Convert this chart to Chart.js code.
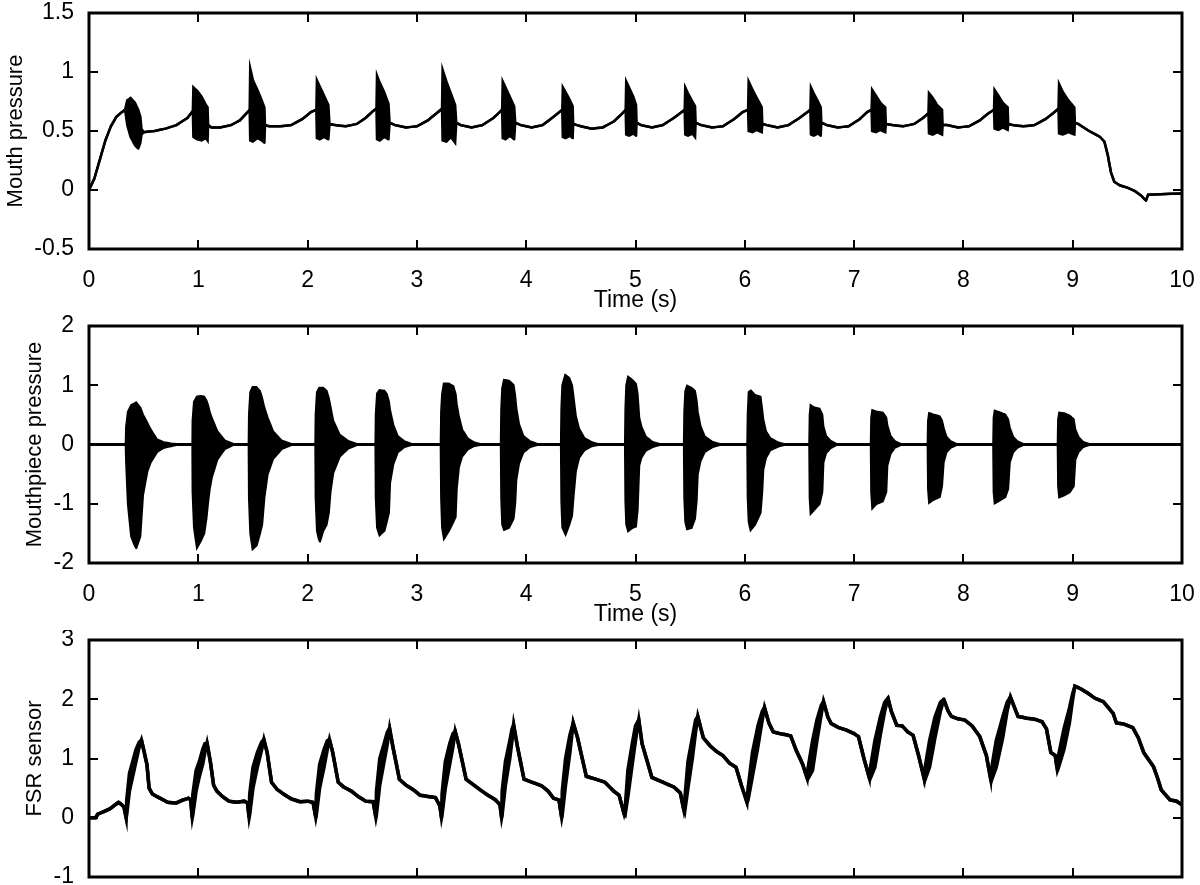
<!DOCTYPE html>
<html>
<head>
<meta charset="utf-8">
<script src="https://cdn.jsdelivr.net/npm/chart.js@4.4.1/dist/chart.umd.min.js"></script>
<style>
  html, body { margin: 0; padding: 0; background: #fff; }
  #wrap { position: relative; width: 1200px; height: 885px; overflow: hidden; }
  canvas { position: absolute; left: 0; }
</style>
</head>
<body>
<div id="wrap">
  <canvas id="mouth" width="1200" height="315" style="top:0"></canvas>
  <canvas id="piece" width="1200" height="315" style="top:315px"></canvas>
  <canvas id="fsr" width="1200" height="255" style="top:630px"></canvas>
</div>
<script>
// tick values
var timeTicks = [0, 1, 2, 3, 4, 5, 6, 7, 8, 9, 10];
var mouthTicks = [-0.5, 0, 0.5, 1, 1.5];
var pieceTicks = [-2, -1, 0, 1, 2];
var fsrTicks = [-1, 0, 1, 2, 3];

// mouth pressure: upper / lower envelope (equal outside the bursts)
var mouthT = [
  0, 0.05, 0.10, 0.15, 0.20, 0.25, 0.30, 0.33,
  0.35, 0.38, 0.42, 0.45, 0.47, 0.48, 0.50,
  0.60, 0.70, 0.80, 0.90, 0.95,
  0.955, 0.99, 1.03, 1.07, 1.085, 1.09,
  1.12, 1.20, 1.30, 1.38, 1.44, 1.47,
  1.475, 1.50, 1.54, 1.58, 1.605, 1.61,
  1.65, 1.75, 1.85, 1.95, 2.03, 2.08,
  2.085, 2.11, 2.15, 2.19, 2.20,
  2.25, 2.35, 2.45, 2.53, 2.60, 2.63,
  2.635, 2.66, 2.70, 2.74, 2.75,
  2.80, 2.90, 3.00, 3.10, 3.18, 3.23,
  3.235, 3.27, 3.31, 3.35, 3.36,
  3.40, 3.50, 3.60, 3.70, 3.78,
  3.785, 3.81, 3.85, 3.89, 3.90,
  3.95, 4.05, 4.15, 4.25, 4.33,
  4.335, 4.36, 4.40, 4.425, 4.43,
  4.50, 4.60, 4.70, 4.80, 4.87, 4.91,
  4.915, 4.94, 4.98, 5.005, 5.01,
  5.05, 5.15, 5.25, 5.35, 5.45,
  5.455, 5.48, 5.52, 5.545, 5.55,
  5.60, 5.70, 5.80, 5.90, 5.98, 6.03,
  6.035, 6.07, 6.11, 6.155, 6.16,
  6.20, 6.30, 6.40, 6.50, 6.60,
  6.605, 6.63, 6.67, 6.695, 6.70,
  6.75, 6.85, 6.95, 7.05, 7.12, 7.16,
  7.165, 7.20, 7.24, 7.285, 7.29,
  7.35, 7.45, 7.55, 7.63, 7.68,
  7.685, 7.72, 7.76, 7.805, 7.81,
  7.85, 7.95, 8.05, 8.15, 8.23, 8.28,
  8.285, 8.32, 8.36, 8.405, 8.41,
  8.45, 8.55, 8.65, 8.75, 8.82, 8.87,
  8.875, 8.91, 8.96, 9.015, 9.02,
  9.05, 9.15, 9.25, 9.29, 9.32, 9.35, 9.38, 9.43, 9.50, 9.57, 9.63, 9.67, 9.69, 9.80, 10.0
];
var mouthHi = [
  0, 0.10, 0.26, 0.42, 0.54, 0.62, 0.66, 0.68,
  0.76, 0.78, 0.74, 0.68, 0.62, 0.52, 0.49,
  0.50, 0.52, 0.55, 0.61, 0.67,
  0.87, 0.84, 0.79, 0.72, 0.70, 0.55,
  0.53, 0.53, 0.55, 0.59, 0.65, 0.68,
  1.03, 0.93, 0.85, 0.76, 0.70, 0.55,
  0.54, 0.54, 0.55, 0.60, 0.66, 0.68,
  0.93, 0.88, 0.80, 0.72, 0.56,
  0.55, 0.54, 0.56, 0.61, 0.67, 0.69,
  0.97, 0.91, 0.83, 0.73, 0.57,
  0.55, 0.53, 0.54, 0.59, 0.65, 0.69,
  1.02, 0.92, 0.82, 0.72, 0.57,
  0.55, 0.53, 0.55, 0.61, 0.68,
  0.92, 0.87, 0.79, 0.71, 0.57,
  0.55, 0.53, 0.55, 0.62, 0.68,
  0.87, 0.83, 0.76, 0.71, 0.56,
  0.54, 0.52, 0.53, 0.58, 0.64, 0.68,
  0.92, 0.87, 0.79, 0.72, 0.57,
  0.55, 0.53, 0.55, 0.61, 0.68,
  0.87, 0.82, 0.75, 0.71, 0.57,
  0.55, 0.53, 0.54, 0.60, 0.66, 0.68,
  0.92, 0.85, 0.78, 0.70, 0.56,
  0.55, 0.53, 0.55, 0.61, 0.68,
  0.87, 0.82, 0.75, 0.70, 0.57,
  0.55, 0.53, 0.54, 0.60, 0.66, 0.68,
  0.85, 0.80, 0.74, 0.70, 0.56,
  0.55, 0.54, 0.56, 0.61, 0.65,
  0.82, 0.78, 0.72, 0.68, 0.55,
  0.55, 0.53, 0.54, 0.59, 0.65, 0.68,
  0.85, 0.80, 0.74, 0.70, 0.56,
  0.55, 0.54, 0.55, 0.60, 0.65, 0.69,
  0.90, 0.83, 0.76, 0.70, 0.57,
  0.56, 0.50, 0.45, 0.41, 0.30, 0.15, 0.07, 0.04, 0.02, -0.01, -0.05, -0.09, -0.04, -0.035, -0.03
];
var mouthLo = [
  0, 0.10, 0.26, 0.42, 0.54, 0.62, 0.66, 0.68,
  0.55, 0.45, 0.38, 0.35, 0.40, 0.47, 0.49,
  0.50, 0.52, 0.55, 0.61, 0.67,
  0.45, 0.43, 0.42, 0.44, 0.42, 0.55,
  0.53, 0.53, 0.55, 0.59, 0.65, 0.68,
  0.42, 0.41, 0.44, 0.42, 0.40, 0.55,
  0.54, 0.54, 0.55, 0.60, 0.66, 0.68,
  0.44, 0.43, 0.45, 0.43, 0.56,
  0.55, 0.54, 0.56, 0.61, 0.67, 0.69,
  0.43, 0.42, 0.45, 0.43, 0.57,
  0.55, 0.53, 0.54, 0.59, 0.65, 0.69,
  0.42, 0.41, 0.45, 0.40, 0.57,
  0.55, 0.53, 0.55, 0.61, 0.68,
  0.44, 0.43, 0.46, 0.43, 0.57,
  0.55, 0.53, 0.55, 0.62, 0.68,
  0.45, 0.44, 0.46, 0.44, 0.56,
  0.54, 0.52, 0.53, 0.58, 0.64, 0.68,
  0.47, 0.46, 0.48, 0.46, 0.57,
  0.55, 0.53, 0.55, 0.61, 0.68,
  0.47, 0.46, 0.48, 0.45, 0.57,
  0.55, 0.53, 0.54, 0.60, 0.66, 0.68,
  0.50, 0.49, 0.51, 0.49, 0.56,
  0.55, 0.53, 0.55, 0.61, 0.68,
  0.47, 0.46, 0.48, 0.46, 0.57,
  0.55, 0.53, 0.54, 0.60, 0.66, 0.68,
  0.50, 0.49, 0.51, 0.49, 0.56,
  0.55, 0.54, 0.56, 0.61, 0.65,
  0.48, 0.47, 0.49, 0.47, 0.55,
  0.55, 0.53, 0.54, 0.59, 0.65, 0.68,
  0.52, 0.51, 0.53, 0.51, 0.56,
  0.55, 0.54, 0.55, 0.60, 0.65, 0.69,
  0.48, 0.47, 0.49, 0.47, 0.57,
  0.56, 0.50, 0.45, 0.41, 0.30, 0.15, 0.07, 0.04, 0.02, -0.01, -0.05, -0.09, -0.04, -0.035, -0.03
];

// mouthpiece pressure: upper / lower envelope of the oscillation
var pieceT = [
  0, 0.34,
  0.344, 0.36, 0.39, 0.43, 0.465, 0.49, 0.53, 0.56, 0.62, 0.68, 0.75, 0.80,
  0.95, 0.952, 0.965, 0.99, 1.02, 1.05, 1.07, 1.085, 1.10, 1.12, 1.17, 1.24, 1.32,
  1.465, 1.468, 1.48, 1.50, 1.53, 1.56, 1.58, 1.60, 1.63, 1.68, 1.76, 1.85,
  2.075, 2.078, 2.09, 2.11, 2.14, 2.17, 2.19, 2.205, 2.23, 2.29, 2.37, 2.45,
  2.625, 2.628, 2.64, 2.66, 2.70, 2.72, 2.74, 2.75, 2.78, 2.82, 2.88, 2.95,
  3.222, 3.226, 3.235, 3.25, 3.29, 3.33, 3.35, 3.36, 3.38, 3.41, 3.46, 3.52, 3.58,
  3.772, 3.776, 3.785, 3.80, 3.84, 3.88, 3.895, 3.905, 3.93, 3.97, 4.03, 4.10,
  4.322, 4.326, 4.335, 4.36, 4.39, 4.415, 4.43, 4.45, 4.48, 4.53, 4.60, 4.66,
  4.908, 4.912, 4.920, 4.935, 4.97, 5.00, 5.015, 5.03, 5.05, 5.09, 5.15, 5.22,
  5.447, 5.451, 5.46, 5.475, 5.51, 5.54, 5.555, 5.565, 5.59, 5.63, 5.70, 5.77,
  6.027, 6.031, 6.04, 6.055, 6.09, 6.14, 6.155, 6.165, 6.19, 6.23, 6.30, 6.36,
  6.594, 6.598, 6.606, 6.63, 6.68, 6.705, 6.715, 6.74, 6.78, 6.84,
  7.157, 7.161, 7.17, 7.20, 7.26, 7.29, 7.30, 7.33, 7.37, 7.43,
  7.677, 7.681, 7.69, 7.72, 7.78, 7.80, 7.815, 7.84, 7.88, 7.94,
  8.277, 8.281, 8.29, 8.32, 8.38, 8.405, 8.42, 8.45, 8.49, 8.55,
  8.867, 8.871, 8.88, 8.92, 8.97, 9.005, 9.02, 9.05, 9.09, 9.15, 10.0
];
var pieceHi = [
  0, 0,
  0.30, 0.55, 0.66, 0.70, 0.62, 0.50, 0.36, 0.25, 0.08, 0.03, 0.01, 0,
  0, 0.40, 0.72, 0.80, 0.81, 0.80, 0.74, 0.66, 0.55, 0.44, 0.22, 0.06, 0,
  0, 0.50, 0.88, 0.96, 0.96, 0.90, 0.78, 0.62, 0.45, 0.22, 0.06, 0,
  0, 0.50, 0.88, 0.95, 0.95, 0.90, 0.78, 0.64, 0.40, 0.16, 0.05, 0,
  0, 0.50, 0.86, 0.91, 0.90, 0.85, 0.72, 0.58, 0.33, 0.14, 0.05, 0,
  0, 0.55, 0.85, 1.02, 1.02, 0.98, 0.85, 0.68, 0.47, 0.25, 0.10, 0.03, 0,
  0, 0.60, 0.95, 1.08, 1.07, 1.00, 0.82, 0.62, 0.34, 0.14, 0.05, 0,
  0, 0.60, 1.00, 1.16, 1.12, 1.00, 0.78, 0.48, 0.26, 0.10, 0.03, 0,
  0, 0.60, 1.00, 1.13, 1.08, 1.02, 0.85, 0.45, 0.30, 0.13, 0.04, 0,
  0, 0.55, 0.90, 0.98, 0.95, 0.90, 0.74, 0.55, 0.31, 0.13, 0.04, 0,
  0, 0.50, 0.88, 0.90, 0.83, 0.80, 0.58, 0.42, 0.22, 0.10, 0.03, 0,
  0, 0.50, 0.65, 0.62, 0.60, 0.50, 0.30, 0.14, 0.06, 0,
  0, 0.45, 0.57, 0.55, 0.53, 0.45, 0.32, 0.14, 0.05, 0,
  0, 0.40, 0.52, 0.50, 0.47, 0.40, 0.28, 0.13, 0.05, 0,
  0, 0.45, 0.56, 0.54, 0.50, 0.42, 0.28, 0.13, 0.05, 0,
  0, 0.42, 0.53, 0.52, 0.48, 0.42, 0.25, 0.12, 0.04, 0, 0
];
var pieceLo = [
  0, 0,
  -0.30, -1.00, -1.55, -1.74, -1.55, -0.85, -0.45, -0.30, -0.12, -0.05, -0.02, 0,
  0, -0.80, -1.40, -1.72, -1.62, -1.50, -1.25, -0.98, -0.75, -0.55, -0.25, -0.07, 0,
  0, -0.90, -1.50, -1.75, -1.70, -1.50, -1.35, -0.90, -0.50, -0.24, -0.07, 0,
  0, -0.90, -1.45, -1.63, -1.45, -1.35, -1.15, -0.80, -0.48, -0.20, -0.06, 0,
  0, -0.90, -1.40, -1.52, -1.45, -1.30, -1.15, -0.65, -0.33, -0.13, -0.04, 0,
  0, -0.90, -1.40, -1.57, -1.45, -1.30, -1.22, -0.75, -0.38, -0.20, -0.08, -0.02, 0,
  0, -0.90, -1.35, -1.43, -1.40, -1.25, -1.00, -0.60, -0.32, -0.13, -0.04, 0,
  0, -0.95, -1.40, -1.50, -1.35, -1.20, -0.85, -0.45, -0.22, -0.09, -0.02, 0,
  0, -0.95, -1.35, -1.45, -1.40, -1.38, -1.10, -0.35, -0.22, -0.10, -0.04, 0,
  0, -0.90, -1.30, -1.42, -1.40, -1.25, -0.95, -0.50, -0.28, -0.12, -0.04, 0,
  0, -0.90, -1.30, -1.43, -1.35, -1.15, -0.80, -0.42, -0.22, -0.09, -0.03, 0,
  0, -0.90, -1.15, -1.10, -1.00, -0.80, -0.30, -0.14, -0.06, 0,
  0, -0.80, -1.06, -1.00, -0.95, -0.80, -0.35, -0.15, -0.05, 0,
  0, -0.75, -0.97, -0.93, -0.88, -0.70, -0.30, -0.13, -0.05, 0,
  0, -0.80, -0.98, -0.95, -0.88, -0.75, -0.30, -0.13, -0.05, 0,
  0, -0.70, -0.88, -0.85, -0.80, -0.70, -0.25, -0.12, -0.04, 0, 0
];

// FSR sensor: upper / lower edge of the trace (band on the rising edges)
var fsrT = [
  0, 0.06, 0.08, 0.13, 0.19, 0.24, 0.27, 0.30, 0.32, 0.34,
  0.345, 0.37, 0.40, 0.43, 0.46, 0.48, 0.50, 0.53, 0.55, 0.58, 0.62, 0.66, 0.72, 0.80, 0.86, 0.91, 0.93, 0.945,
  0.95, 0.98, 1.01, 1.04, 1.06, 1.08, 1.11, 1.14, 1.17, 1.22, 1.28, 1.35, 1.42, 1.45, 1.465,
  1.47, 1.50, 1.54, 1.58, 1.60, 1.63, 1.67, 1.72, 1.78, 1.85, 1.93, 2.00, 2.05, 2.075,
  2.08, 2.11, 2.15, 2.18, 2.20, 2.23, 2.28, 2.33, 2.40, 2.47, 2.53, 2.60, 2.625,
  2.63, 2.66, 2.70, 2.73, 2.75, 2.78, 2.84, 2.90, 2.97, 3.03, 3.10, 3.17, 3.21, 3.225,
  3.23, 3.26, 3.30, 3.33, 3.35, 3.38, 3.45, 3.50, 3.58, 3.65, 3.72, 3.76, 3.775,
  3.78, 3.81, 3.85, 3.87, 3.885, 3.92, 3.98, 4.05, 4.14, 4.20, 4.25, 4.30, 4.325,
  4.33, 4.36, 4.40, 4.43, 4.47, 4.55, 4.62, 4.72, 4.80, 4.85, 4.895,
  4.905, 4.93, 4.97, 5.00, 5.03, 5.06, 5.15, 5.25, 5.35, 5.41, 5.44,
  5.45, 5.48, 5.52, 5.55, 5.57, 5.62, 5.68, 5.74, 5.80, 5.86, 5.92, 5.97, 6.02,
  6.03, 6.07, 6.12, 6.16, 6.18, 6.22, 6.26, 6.32, 6.38, 6.42, 6.47, 6.53, 6.57,
  6.575, 6.62, 6.66, 6.70, 6.72, 6.76, 6.79, 6.86, 6.93, 7.00, 7.04, 7.09, 7.14,
  7.145, 7.19, 7.24, 7.28, 7.31, 7.34, 7.39, 7.44, 7.49, 7.54, 7.59, 7.64,
  7.645, 7.69, 7.74, 7.79, 7.82, 7.86, 7.89, 7.95, 8.01, 8.08, 8.15, 8.21, 8.25,
  8.255, 8.30, 8.36, 8.40, 8.43, 8.47, 8.50, 8.58, 8.66, 8.72, 8.76, 8.80, 8.84, 8.86,
  8.87, 8.92, 8.97, 9.00, 9.02, 9.08, 9.14, 9.20, 9.28, 9.33, 9.37, 9.40, 9.47, 9.55, 9.60, 9.65, 9.74, 9.78, 9.81, 9.89, 9.95, 10.0
];
var fsrHi = [
  0, 0, 0.06, 0.10, 0.15, 0.22, 0.26, 0.22, 0.18, 0,
  0.30, 0.75, 0.95, 1.15, 1.28, 1.31, 1.15, 0.90, 0.50, 0.40, 0.36, 0.32, 0.26, 0.25, 0.30, 0.33, 0.30, 0,
  0.40, 0.80, 0.95, 1.15, 1.25, 1.26, 0.95, 0.55, 0.45, 0.36, 0.28, 0.26, 0.28, 0.25, 0,
  0.40, 0.85, 1.10, 1.28, 1.32, 1.10, 0.60, 0.48, 0.40, 0.32, 0.27, 0.28, 0.26, 0,
  0.40, 0.90, 1.15, 1.30, 1.32, 1.10, 0.60, 0.52, 0.45, 0.35, 0.28, 0.27, 0,
  0.45, 1.00, 1.25, 1.45, 1.51, 1.20, 0.65, 0.55, 0.47, 0.38, 0.36, 0.34, 0.20, 0,
  0.40, 0.95, 1.25, 1.42, 1.46, 1.25, 0.65, 0.58, 0.47, 0.38, 0.30, 0.22, 0,
  0.45, 0.95, 1.30, 1.50, 1.57, 1.20, 0.65, 0.60, 0.54, 0.45, 0.33, 0.30, 0,
  0.45, 1.00, 1.40, 1.60, 1.35, 0.70, 0.66, 0.60, 0.45, 0.38, 0.07,
  0.15, 0.80, 1.25, 1.55, 1.65, 1.25, 0.68, 0.60, 0.52, 0.42, 0.15,
  0.30, 0.95, 1.35, 1.65, 1.71, 1.35, 1.22, 1.12, 1.05, 0.92, 0.85, 0.54, 0.26,
  0.50, 1.10, 1.55, 1.80, 1.86, 1.60, 1.45, 1.42, 1.40, 1.38, 1.14, 0.90, 0.67,
  0.80, 1.30, 1.65, 1.90, 1.96, 1.70, 1.59, 1.52, 1.48, 1.42, 1.37, 1.00, 0.67,
  0.80, 1.30, 1.70, 1.95, 2.02, 1.80, 1.56, 1.55, 1.45, 1.39, 1.05, 0.67,
  0.80, 1.30, 1.70, 1.95, 2.00, 1.80, 1.71, 1.67, 1.65, 1.55, 1.37, 1.05, 0.65,
  0.80, 1.30, 1.70, 1.95, 2.04, 1.85, 1.71, 1.68, 1.66, 1.62, 1.50, 1.10, 1.05, 0.80,
  1.05, 1.50, 1.85, 2.10, 2.22, 2.17, 2.10, 2.02, 1.96, 1.85, 1.76, 1.60, 1.58, 1.52, 1.35, 1.10, 0.86, 0.65, 0.47, 0.30, 0.28, 0.22
];
var fsrLo = [
  0, 0, 0.06, 0.10, 0.15, 0.22, 0.26, 0.22, 0.18, 0,
  0.05, 0.45, 0.70, 0.95, 1.20, 1.31, 1.15, 0.90, 0.50, 0.40, 0.36, 0.32, 0.26, 0.25, 0.30, 0.33, 0.30, 0,
  0.05, 0.45, 0.70, 0.90, 1.10, 1.26, 0.95, 0.55, 0.45, 0.36, 0.28, 0.26, 0.28, 0.25, 0,
  0.05, 0.50, 0.85, 1.15, 1.32, 1.10, 0.60, 0.48, 0.40, 0.32, 0.27, 0.28, 0.26, 0,
  0.05, 0.50, 0.85, 1.15, 1.32, 1.10, 0.60, 0.52, 0.45, 0.35, 0.28, 0.27, 0,
  0.05, 0.55, 0.95, 1.25, 1.51, 1.20, 0.65, 0.55, 0.47, 0.38, 0.36, 0.34, 0.20, 0,
  0.05, 0.50, 0.90, 1.20, 1.46, 1.25, 0.65, 0.58, 0.47, 0.38, 0.30, 0.22, 0,
  0.05, 0.55, 1.00, 1.30, 1.57, 1.20, 0.65, 0.60, 0.54, 0.45, 0.33, 0.30, 0,
  0.05, 0.55, 1.10, 1.60, 1.35, 0.70, 0.66, 0.60, 0.45, 0.38, 0.07,
  0.05, 0.35, 0.90, 1.30, 1.65, 1.25, 0.68, 0.60, 0.52, 0.42, 0.15,
  0.10, 0.50, 1.00, 1.45, 1.71, 1.35, 1.22, 1.12, 1.05, 0.92, 0.85, 0.54, 0.26,
  0.30, 0.70, 1.20, 1.65, 1.86, 1.60, 1.45, 1.42, 1.40, 1.38, 1.14, 0.90, 0.67,
  0.65, 0.80, 1.30, 1.75, 1.96, 1.70, 1.59, 1.52, 1.48, 1.42, 1.37, 1.00, 0.67,
  0.65, 0.85, 1.40, 1.80, 2.02, 1.80, 1.56, 1.55, 1.45, 1.39, 1.05, 0.67,
  0.62, 0.85, 1.35, 1.80, 2.00, 1.80, 1.71, 1.67, 1.65, 1.55, 1.37, 1.05, 0.65,
  0.62, 0.85, 1.35, 1.80, 2.04, 1.85, 1.71, 1.68, 1.66, 1.62, 1.50, 1.10, 1.05, 0.80,
  0.85, 1.15, 1.60, 2.00, 2.22, 2.17, 2.10, 2.02, 1.96, 1.85, 1.76, 1.60, 1.58, 1.52, 1.35, 1.10, 0.86, 0.65, 0.47, 0.30, 0.28, 0.22
];

var FAMILY = "'Liberation Sans', Arial, sans-serif";
var TICK_FONT = { family: FAMILY, size: 23 };
var TITLE_FONT = { family: FAMILY, size: 22 };
var TICK = 9;

// matlab style frame, ticks pointing inwards on all four sides
var boxPlugin = {
  id: 'box',
  afterDraw: function (chart) {
    var ctx = chart.ctx, a = chart.chartArea;
    var xs = chart.scales.x, ys = chart.scales.y;
    ctx.save();
    ctx.strokeStyle = '#000';
    ctx.lineWidth = 2;
    ctx.beginPath();
    xs.ticks.forEach(function (t) {
      var px = Math.round(xs.getPixelForValue(t.value));
      ctx.moveTo(px, a.top); ctx.lineTo(px, a.top + TICK);
      ctx.moveTo(px, a.bottom); ctx.lineTo(px, a.bottom - TICK);
    });
    ys.ticks.forEach(function (t) {
      var py = Math.round(ys.getPixelForValue(t.value));
      ctx.moveTo(a.left, py); ctx.lineTo(a.left + TICK, py);
      ctx.moveTo(a.right, py); ctx.lineTo(a.right - TICK, py);
    });
    ctx.stroke();
    ctx.lineWidth = 3;
    ctx.strokeRect(a.left, a.top, a.right - a.left, a.bottom - a.top);
    ctx.restore();
  }
};

function pts(t, v) {
  return t.map(function (x, i) { return { x: x, y: v[i] }; });
}

// tiny tension keeps lines straight but avoids the pixel-collapsing fast path
function panel(id, t, hi, lo, o) {
  return new Chart(document.getElementById(id), {
    type: 'line',
    data: {
      datasets: [
        { data: pts(t, hi), borderColor: '#000', backgroundColor: '#000', borderWidth: o.lw,
          fill: '+1', pointRadius: 0, tension: 0.0001 },
        { data: pts(t, lo), borderColor: '#000', borderWidth: o.lw,
          fill: false, pointRadius: 0, tension: 0.0001 }
      ]
    },
    options: {
      responsive: false,
      animation: false,
      events: [],
      layout: { padding: { left: 0, right: 18, top: o.top, bottom: 0 } },
      plugins: { legend: { display: false }, tooltip: { enabled: false } },
      scales: {
        x: {
          type: 'linear', min: 0, max: 10,
          grid: { display: false }, border: { display: false },
          afterBuildTicks: function (s) { s.ticks = timeTicks.map(function (v) { return { value: v }; }); },
          ticks: { display: o.xLabels, padding: 10, color: '#000', font: TICK_FONT, maxRotation: 0, autoSkip: false },
          title: { display: o.xLabels, text: 'Time (s)', color: '#000', font: TICK_FONT, padding: { top: 0, bottom: o.xTitlePad } },
          afterFit: function (s) { s.height = o.xh; s.paddingLeft = 0; s.paddingRight = 0; }
        },
        y: {
          min: o.yTicks[0], max: o.yTicks[o.yTicks.length - 1],
          grid: { display: false }, border: { display: false },
          afterBuildTicks: function (s) { s.ticks = o.yTicks.map(function (v) { return { value: v }; }); },
          ticks: { padding: 7, color: '#000', font: TICK_FONT, callback: function (v) { return String(v); } },
          title: { display: true, text: o.yTitle, color: '#000', font: TITLE_FONT, padding: { top: o.titlePad, bottom: 0 } },
          afterFit: function (s) { s.width = 89; s.paddingTop = 0; s.paddingBottom = 0; }
        }
      }
    },
    plugins: [boxPlugin]
  });
}

panel('mouth', mouthT, mouthHi, mouthLo,
  { top: 13, xh: 66, lw: 2.5, xLabels: true, xTitlePad: 1, yTicks: mouthTicks, yTitle: 'Mouth pressure', titlePad: 3 });
panel('piece', pieceT, pieceHi, pieceLo,
  { top: 11, xh: 67, lw: 3, xLabels: true, xTitlePad: 2, yTicks: pieceTicks, yTitle: 'Mouthpiece pressure', titlePad: 22 });
panel('fsr', fsrT, fsrHi, fsrLo,
  { top: 10, xh: 8, lw: 3.5, xLabels: false, xTitlePad: 0, yTicks: fsrTicks, yTitle: 'FSR sensor', titlePad: 22 });
</script>
</body>
</html>
